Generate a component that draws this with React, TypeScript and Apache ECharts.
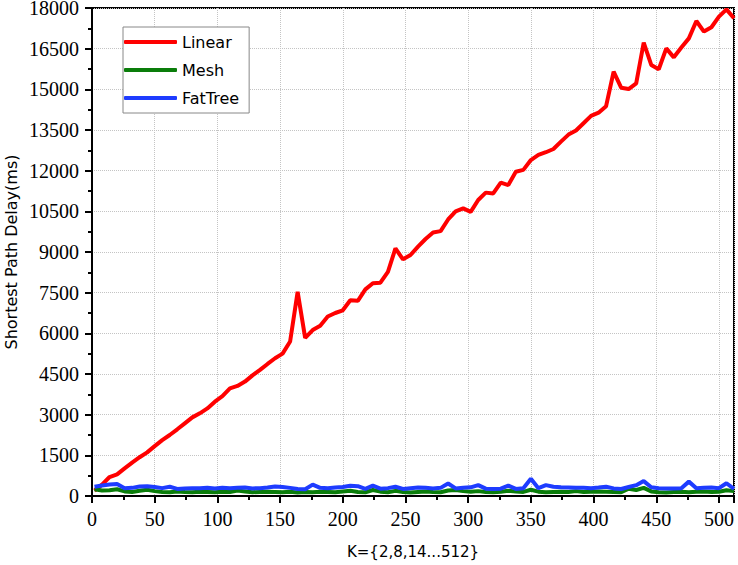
import React, { useEffect, useRef } from "react";
import * as echarts from "echarts";

const kValues = [
  2, 8, 14, 20, 26, 32, 38, 44, 50, 56, 62, 68, 74, 80, 86, 92, 98, 104, 110, 116,
  122, 128, 134, 140, 146, 152, 158, 164, 170, 176, 182, 188, 194, 200, 206, 212,
  218, 224, 230, 236, 242, 248, 254, 260, 266, 272, 278, 284, 290, 296, 302, 308,
  314, 320, 326, 332, 338, 344, 350, 356, 362, 368, 374, 380, 386, 392, 398, 404,
  410, 416, 422, 428, 434, 440, 446, 452, 458, 464, 470, 476, 482, 488, 494, 500,
  506, 512,
];

const linear = [
  200, 420, 700, 800, 1020, 1230, 1430, 1610, 1840, 2060, 2250, 2460, 2680, 2900,
  3050, 3230, 3480, 3680, 3970, 4060, 4220, 4450, 4650, 4870, 5080, 5250, 5700,
  7530, 5830, 6120, 6280, 6620, 6750, 6850, 7220, 7200, 7620, 7850, 7870, 8270,
  9130, 8730, 8890, 9200, 9480, 9720, 9770, 10200, 10500, 10610, 10480, 10920,
  11190, 11160, 11560, 11470, 11960, 12030, 12390, 12580, 12680, 12800, 13070,
  13330, 13480, 13750, 14020, 14140, 14380, 15650, 15060, 15010, 15220, 16720,
  15900, 15740, 16510, 16180, 16540, 16880, 17520, 17130, 17290, 17680, 17950,
  17620,
];

const mesh = [
  250, 200, 210, 250, 170, 150, 190, 230, 180, 150, 140, 170, 150, 140, 160, 150,
  140, 160, 150, 200, 170, 140, 150, 160, 150, 140, 160, 130, 150, 140, 160, 150,
  140, 170, 190, 150, 140, 220, 160, 140, 190, 150, 130, 150, 170, 150, 140, 200,
  220, 180, 160, 180, 150, 140, 160, 190, 170, 150, 230, 160, 140, 150, 160, 150,
  180, 150, 160, 170, 160, 150, 140, 270, 220, 300, 170, 140, 130, 150, 160, 140,
  160, 170, 150, 160, 210, 180,
];

const fatTree = [
  340, 390, 420, 440, 290, 300, 350, 360, 330, 290, 340, 260, 280, 290, 285, 300,
  280, 300, 290, 300, 310, 280, 290, 310, 350, 330, 300, 260, 250, 420, 300, 290,
  310, 330, 380, 360, 260, 380, 270, 290, 340, 260, 290, 310, 300, 280, 300, 460,
  280, 300, 320, 400, 270, 260, 270, 380, 260, 290, 640, 290, 400, 340, 320, 310,
  300, 300, 290, 310, 340, 280, 260, 330, 400, 550, 320, 290, 280, 280, 290, 530,
  290, 300, 310, 290, 470, 260,
];

const seriesNames = ["Linear", "Mesh", "FatTree"];
const seriesColors = ["#ff0000", "#0a7d0a", "#1e3cff"];
const xTitle = "K={2,8,14...512}";
const yTitle = "Shortest Path Delay(ms)";

export default function App() {
  const ref = useRef<HTMLDivElement>(null);
  useEffect(() => {
    if (!ref.current) return;
    const chart = echarts.init(ref.current, undefined, { renderer: "svg" });
    const pair = (ys: number[]) => kValues.map((k, i) => [k, ys[i]]);
    const datasets = [linear, mesh, fatTree];
    const numLabel = {
      fontFamily: "Liberation Serif",
      fontSize: 20,
      color: "#000",
      formatter: (v: number) => String(v),
    };
    chart.setOption({
      animation: false,
      textStyle: { fontFamily: "Liberation Serif", fontSize: 20, color: "#000" },
      grid: {
        left: 92,
        right: 4,
        top: 8,
        bottom: 69,
        show: true,
        borderColor: "#000",
        borderWidth: 2,
        backgroundColor: "transparent",
        outerBoundsMode: "none",
      },
      graphic: [
        {
          type: "text",
          x: 11,
          y: 252,
          rotation: Math.PI / 2,
          style: {
            text: yTitle,
            fontFamily: "DejaVu Sans",
            fontSize: 16,
            fill: "#000",
            align: "center",
            verticalAlign: "middle",
          },
        },
        {
          type: "text",
          x: 413,
          y: 552,
          style: {
            text: xTitle,
            fontFamily: "DejaVu Sans",
            fontSize: 15,
            fill: "#000",
            align: "center",
            verticalAlign: "middle",
          },
        },
      ],
      legend: {
        orient: "vertical",
        left: 123,
        top: 27,
        padding: [7, 10, 7, 1],
        itemGap: 12,
        itemWidth: 53,
        itemHeight: 4,
        icon: "roundRect",
        borderColor: "#888",
        borderWidth: 1,
        backgroundColor: "#fff",
        data: seriesNames,
        textStyle: { fontFamily: "DejaVu Sans", fontSize: 16, color: "#000" },
      },
      xAxis: {
        type: "value",
        min: 0,
        max: 512,
        interval: 50,
        axisLine: { show: true, onZero: false, lineStyle: { color: "#000", width: 2 } },
        axisTick: { show: true, length: 7, lineStyle: { color: "#000", width: 2 } },
        minorTick: { show: true, splitNumber: 2, length: 4, lineStyle: { color: "#000", width: 2 } },
        axisLabel: { ...numLabel, showMaxLabel: false, margin: 13 },
        splitLine: { show: true, lineStyle: { color: "#c4c4c4", type: "dotted", width: 1 } },
      },
      yAxis: {
        type: "value",
        min: 0,
        max: 18000,
        interval: 1500,
        axisLine: { show: true, onZero: false, lineStyle: { color: "#000", width: 2 } },
        axisTick: { show: true, length: 7, lineStyle: { color: "#000", width: 2 } },
        minorTick: { show: true, splitNumber: 2, length: 4, lineStyle: { color: "#000", width: 2 } },
        axisLabel: { ...numLabel, margin: 13 },
        splitLine: { show: true, lineStyle: { color: "#c4c4c4", type: "dotted", width: 1 } },
      },
      series: seriesNames.map((name, i) => ({
        name,
        type: "line",
        data: pair(datasets[i]),
        showSymbol: false,
        symbol: "none",
        color: seriesColors[i],
        lineStyle: { color: seriesColors[i], width: 4 },
      })),
    });
    return () => chart.dispose();
  }, []);
  return (
    <div
      ref={ref}
      style={{ position: "fixed", left: 0, top: 0, width: 738, height: 565, background: "#fff" }}
    />
  );
}
